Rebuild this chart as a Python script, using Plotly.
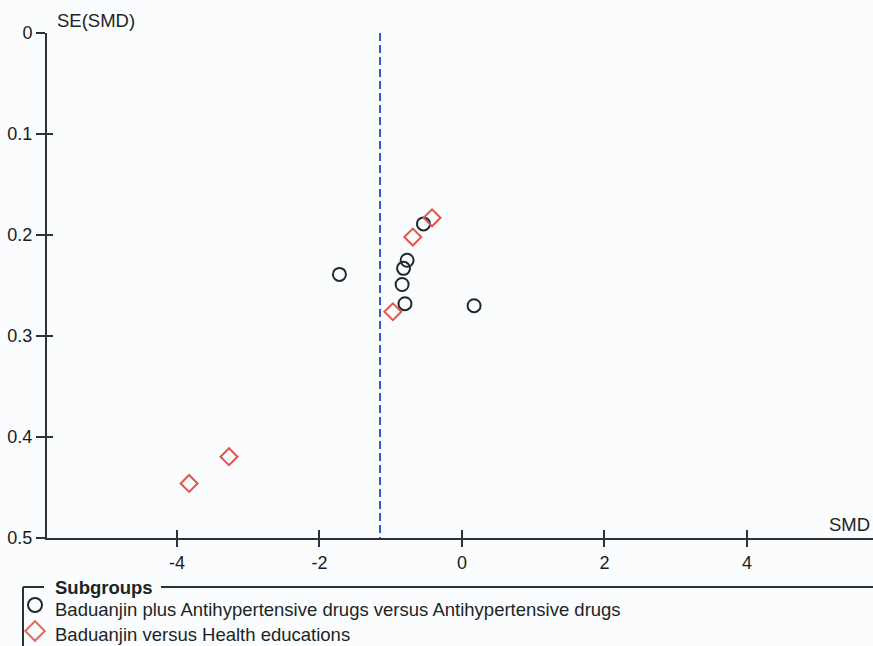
import plotly.graph_objects as go

# ---- data ----
circle_smd = [-1.72, -0.54, -0.77, -0.82, -0.84, -0.80, 0.17]
circle_se = [0.239, 0.189, 0.225, 0.233, 0.249, 0.268, 0.270]
diamond_smd = [-0.42, -0.69, -0.97, -3.27, -3.83]
diamond_se = [0.183, 0.202, 0.276, 0.4195, 0.446]
summary_smd = -1.15
x_ticks = [-4, -2, 0, 2, 4]
y_ticks = [0, 0.1, 0.2, 0.3, 0.4, 0.5]
y_tick_labels = ["0", "0.1", "0.2", "0.3", "0.4", "0.5"]
legend_labels = ["Baduanjin plus Antihypertensive drugs versus Antihypertensive drugs",
                 "Baduanjin versus Health educations"]
legend_title = "Subgroups"

W, H = 873, 646
def px(x):
    return x / W
def py(y):
    return 1 - y / H

FONT = "Liberation Sans, Arial, sans-serif"
AX = "#2a3434"
CIRC = "#1e2a2a"
DIAM = "#e0574a"
BG = "#fbfcfe"

xr = [-5.825, 5.77]
yr = [0.5, 0.0]
xdom = [px(47), 1.0]
ydom = [py(538), py(33)]

fig = go.Figure()

fig.add_trace(go.Scatter(
    x=[summary_smd, summary_smd], y=[0, 0.5], mode="lines",
    line=dict(color="#2f5ad6", width=2, dash="8px,4px"),
    showlegend=False, hoverinfo="skip"))

fig.add_trace(go.Scatter(
    x=circle_smd, y=circle_se, mode="markers", name=legend_labels[0],
    marker=dict(symbol="circle-open", size=13, color=CIRC, line=dict(width=2, color=CIRC)),
    showlegend=False))
fig.add_trace(go.Scatter(
    x=diamond_smd, y=diamond_se, mode="markers", name=legend_labels[1],
    marker=dict(symbol="diamond-open", size=13, color=DIAM, line=dict(width=2, color=DIAM)),
    showlegend=False))

# inner tick half (overlay axes)
fig.add_trace(go.Scatter(x=[None], y=[None], xaxis="x2", yaxis="y2", showlegend=False))

# legend symbols on a pixel-coordinate helper axis
fig.add_trace(go.Scatter(
    x=[35], y=[605], mode="markers", xaxis="x3", yaxis="y3",
    marker=dict(symbol="circle-open", size=14, color=CIRC, line=dict(width=2, color=CIRC)),
    showlegend=False, hoverinfo="skip"))
fig.add_trace(go.Scatter(
    x=[35], y=[631], mode="markers", xaxis="x3", yaxis="y3",
    marker=dict(symbol="diamond-open", size=15, color="#d8705f", line=dict(width=2, color="#d8705f")),
    showlegend=False, hoverinfo="skip"))

tickfont = dict(family=FONT, size=18, color="#1a1a1a")

fig.update_layout(
    width=W, height=H, autosize=False,
    margin=dict(l=0, r=0, t=0, b=0, pad=0, autoexpand=False),
    paper_bgcolor=BG, plot_bgcolor="rgba(0,0,0,0)",
    showlegend=False,
    xaxis=dict(domain=xdom, range=xr, tickvals=x_ticks, ticktext=[str(v) for v in x_ticks],
               ticks="outside", ticklen=7, tickwidth=2, tickcolor=AX, automargin=False,
               showline=True, linecolor=AX, linewidth=2, showgrid=False, zeroline=False,
               tickfont=tickfont, anchor="y", fixedrange=True),
    yaxis=dict(domain=ydom, range=yr, tickvals=y_ticks, ticktext=y_tick_labels,
               ticks="outside", ticklen=9, tickwidth=2, tickcolor=AX, automargin=False,
               showline=True, linecolor=AX, linewidth=2, showgrid=False, zeroline=False,
               tickfont=tickfont, anchor="x", fixedrange=True),
    xaxis2=dict(domain=xdom, range=xr, overlaying="x", anchor="y2", tickvals=x_ticks,
                ticks="inside", ticklen=8, tickwidth=2, tickcolor=AX, showticklabels=False,
                showline=False, showgrid=False, zeroline=False, side="bottom", automargin=False),
    yaxis2=dict(domain=ydom, range=yr, overlaying="y", anchor="x2", tickvals=y_ticks,
                ticks="inside", ticklen=6, tickwidth=2, tickcolor=AX, showticklabels=False,
                showline=False, showgrid=False, zeroline=False, side="left", automargin=False),
    xaxis3=dict(domain=[0, 1], range=[0, W], visible=False, anchor="y3", fixedrange=True, automargin=False),
    yaxis3=dict(domain=[0, 1], range=[H, 0], visible=False, anchor="x3", fixedrange=True, automargin=False),
)

annos = [
    dict(x=px(55), y=py(20), text="SE(SMD)", xanchor="left", yanchor="middle"),
    dict(x=px(872), y=py(524), text="SMD", xanchor="right", yanchor="middle"),
    dict(x=px(53), y=py(587), text="<b>" + legend_title + "</b>", xanchor="left", yanchor="middle"),
    dict(x=px(53), y=py(609), text=legend_labels[0], xanchor="left", yanchor="middle"),
    dict(x=px(53), y=py(634), text=legend_labels[1], xanchor="left", yanchor="middle"),
]
for a in annos:
    a.update(xref="paper", yref="paper", showarrow=False,
             font=dict(family=FONT, size=18.5, color="#1a2626"))
fig.update_layout(annotations=annos)

lc = dict(color=AX, width=2)
fig.update_layout(shapes=[
    dict(type="line", xref="paper", yref="paper", x0=px(23), x1=px(23), y0=py(587), y1=py(660), line=lc),
    dict(type="line", xref="paper", yref="paper", x0=px(23), x1=px(44), y0=py(587), y1=py(587), line=lc),
    dict(type="line", xref="paper", yref="paper", x0=px(161), x1=1.0, y0=py(587), y1=py(587), line=lc),
])

fig.write_html("out.html", config={"displayModeBar": False},
               post_script="document.body.style.margin='0';document.body.style.overflow='hidden';")
